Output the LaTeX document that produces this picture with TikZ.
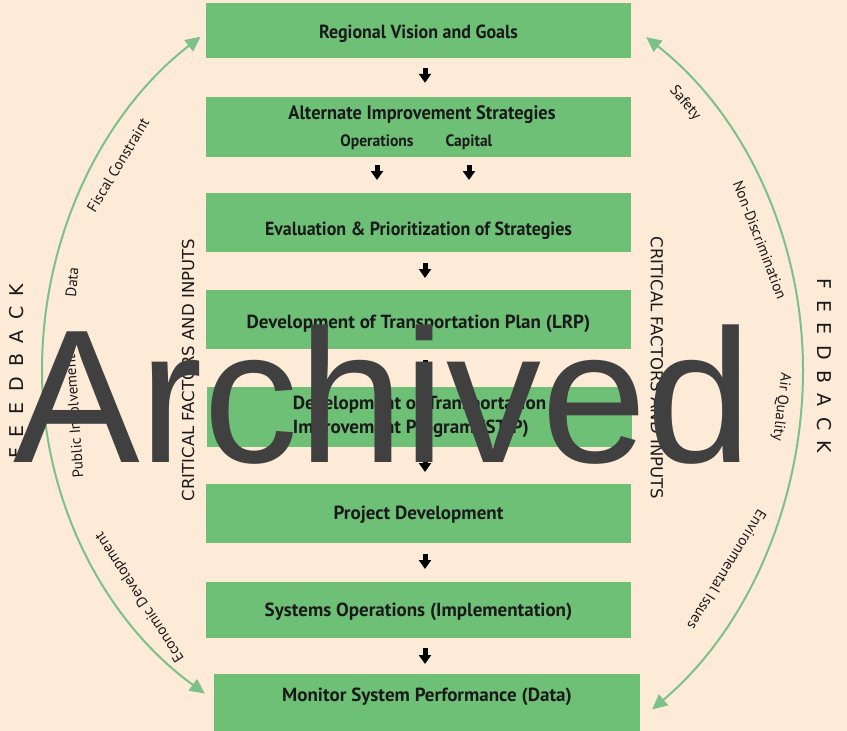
\documentclass[tikz,border=0pt]{standalone}
\usepackage{fontspec}
\setmainfont{PT Sans}
\newfontfamily\condf[FakeStretch=0.945]{PT Sans Bold}
\newfontfamily\boxf{PT Sans Bold}
\newfontfamily\dejavu{DejaVu Sans}
\newfontfamily\archf{Liberation Sans}
\usetikzlibrary{arrows.meta}
\definecolor{bg}{HTML}{FDEAD7}
\definecolor{boxg}{HTML}{6EC077}
\definecolor{arcg}{HTML}{7CC08A}
\definecolor{wm}{HTML}{404040}
\definecolor{txt}{HTML}{1A1A1A}
\begin{document}
\begin{tikzpicture}[x=1pt,y=-1pt,
  box/.style={fill=boxg, draw=none, minimum width=425pt, inner sep=0pt, text=txt,
    anchor=north, font=\boxf\fontsize{19}{24}\selectfont},
  cbox/.style={box, font=\condf\fontsize{19}{24}\selectfont},
  subt/.style={inner sep=0pt, text=txt, font=\condf\fontsize{16.5}{18}\selectfont},
  flowarr/.style={draw=black, line width=5pt, -{Triangle[length=9pt,width=12pt]}},
  arcline/.style={draw=arcg, line width=2pt, -{Triangle[length=15pt,width=14pt]}},
  lbl/.style={inner sep=0pt, text=txt, font=\fontsize{15}{17}\selectfont},
  crit/.style={inner sep=0pt, text=txt, font=\dejavu\fontsize{16.5}{18}\selectfont},
  fb/.style={inner sep=0pt, text=txt, font=\dejavu\fontsize{19}{20}\selectfont}]
\fill[bg] (0,0) rectangle (847,731);
\useasboundingbox (0,0) rectangle (847,731);
\coordinate (ax) at (425,0);
% boxes
\node[cbox, text height=35.5pt, text depth=19.5pt] (vision) at (418.5,3) {Regional Vision and Goals};
\node[box, minimum height=60pt, anchor=center] (alt) at (418.5,126.5) {};
\node[subt, font=\condf\fontsize{19.5}{22}\selectfont] (altT) at (422,114.5) {Alternate Improvement Strategies};
\node[subt] (ops) at (377,142) {Operations};
\node[subt] (cap) at (469,142) {Capital};
\node[cbox, text height=42.5pt, text depth=16.5pt] (eval) at (418.5,193) {Evaluation \& Prioritization of Strategies};
\node[box, text height=38.5pt, text depth=20.5pt] (lrp) at (418.5,290) {Development of Transportation Plan (LRP)};
\node[box, minimum height=60pt, anchor=center, align=left] (stip) at (419.5,417) {Development of Transportation\\Improvement Program (STIP)};
\node[box, text height=35.5pt, text depth=23.5pt] (proj) at (418.5,484) {Project Development};
\node[box, text height=34.5pt, text depth=21.5pt] (sysop) at (418.5,582) {Systems Operations (Implementation)};
\node[box, minimum width=426pt, text height=27.5pt, text depth=31pt] (monitor) at (427,674) {Monitor System Performance (Data)};
% flow arrows
\draw[flowarr, shorten <=10pt, shorten >=13.5pt] (vision.south -| ax) -- (alt.north -| ax);
\draw[flowarr, shorten <=8.5pt, shorten >=13pt] (alt.south -| ops) -- (eval.north -| ops);
\draw[flowarr, shorten <=8.5pt, shorten >=13pt] (alt.south -| cap) -- (eval.north -| cap);
\draw[flowarr, shorten <=11pt, shorten >=12pt] (eval.south -| ax) -- (lrp.north -| ax);
\draw[flowarr, shorten <=11pt, shorten >=12pt] (lrp.south -| ax) -- (stip.north -| ax);
\draw[flowarr, shorten <=10pt, shorten >=12pt] (stip.south -| ax) -- (proj.north -| ax);
\draw[flowarr, shorten <=11pt, shorten >=13pt] (proj.south -| ax) -- (sysop.north -| ax);
\draw[flowarr, shorten <=10pt, shorten >=10pt] (sysop.south -| ax) -- (monitor.north -| ax);
% feedback arcs
\coordinate (lm) at (42,370);
\coordinate (rm) at (803,370);
\draw[arcline] (lm) arc[start angle=180, end angle=125.8, x radius=382pt, y radius=411pt];
\draw[arcline] (lm) arc[start angle=180, end angle=235, x radius=382pt, y radius=395pt];
\draw[arcline] (rm) arc[start angle=0, end angle=54.1, x radius=379pt, y radius=411pt];
\draw[arcline] (rm) arc[start angle=0, end angle=-53, x radius=379pt, y radius=425pt];
% arc labels
\node[lbl, rotate=59] (fiscal) at (118,165) {Fiscal Constraint};
\node[lbl, rotate=85] (data) at (72,282) {Data};
\node[lbl, rotate=94] (public) at (74,416) {Public Involvement};
\node[lbl, rotate=123] (econ) at (140,597) {Economic Development};
\node[lbl, rotate=-50] (safety) at (685,103) {Safety};
\node[lbl, rotate=-69] (nondisc) at (760,240) {Non-Discrimination};
\node[lbl, rotate=-97] (air) at (781,407) {Air Quality};
\node[lbl, rotate=-121.5] (env) at (727,570) {Environmental Issues};
% side texts
\node[crit, rotate=90] (critL) at (188,370) {CRITICAL FACTORS AND INPUTS};
\node[crit, rotate=-90] (critR) at (657,368) {CRITICAL FACTORS AND INPUTS};
\node[fb, rotate=90] (fbL) at (17,371) {F\hspace{10.5pt}E\hspace{10.5pt}E\hspace{10.5pt}D\hspace{10.5pt}B\hspace{10.5pt}A\hspace{10.5pt}C\hspace{10.5pt}K};
\node[fb, rotate=-90] (fbR) at (824,366) {F\hspace{10.5pt}E\hspace{10.5pt}E\hspace{10.5pt}D\hspace{10.5pt}B\hspace{10.5pt}A\hspace{10.5pt}C\hspace{10.5pt}K};
% watermark
\node[anchor=base west, inner sep=0pt, text=wm, font=\archf\fontsize{190}{190}\selectfont] (wmk) at (13,462) {Archived};
\end{tikzpicture}
\end{document}
